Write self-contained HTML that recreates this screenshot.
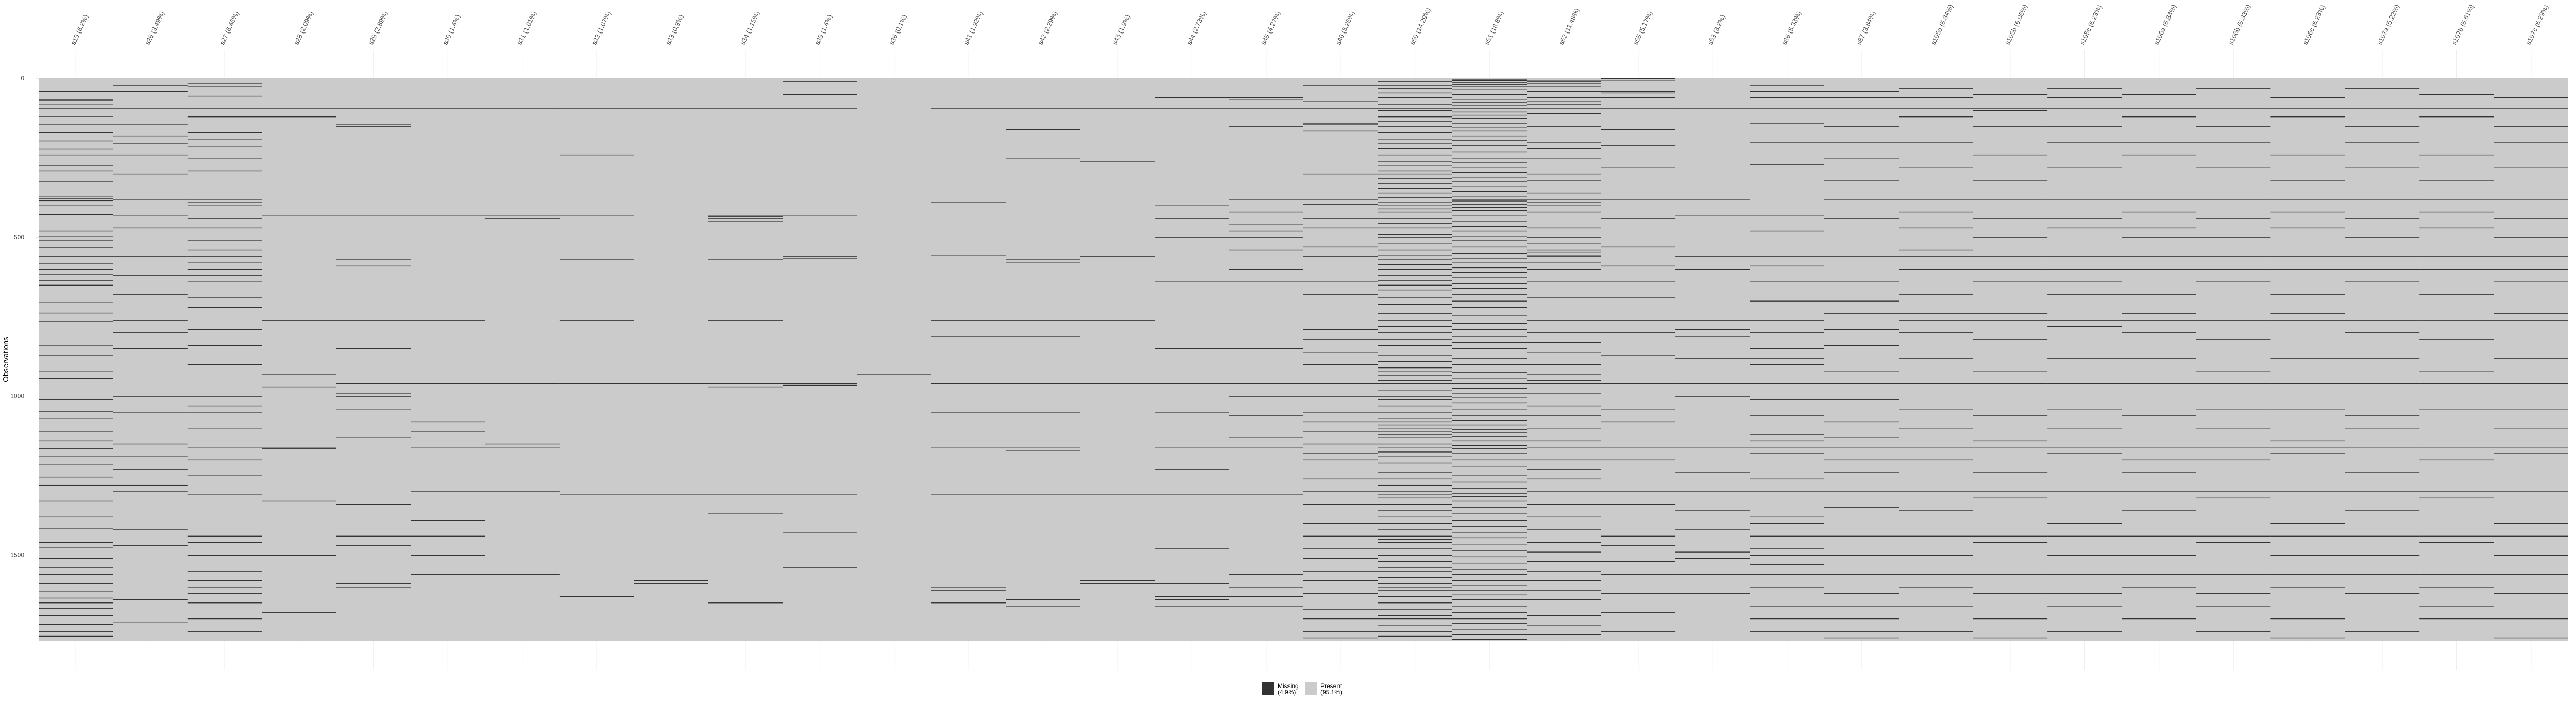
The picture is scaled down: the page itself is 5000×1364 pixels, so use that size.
<!DOCTYPE html>
<html><head><meta charset="utf-8"><style>
html,body{margin:0;padding:0;background:#fff;width:5000px;height:1364px;overflow:hidden;font-family:"Liberation Sans",sans-serif}
</style></head><body>
<svg id="chart" width="5000" height="1364" xmlns="http://www.w3.org/2000/svg"></svg>
<script>
const variables=["s15 (6.2%)","s26 (3.49%)","s27 (6.46%)","s28 (2.09%)","s29 (2.89%)","s30 (1.4%)","s31 (1.01%)","s32 (1.07%)","s33 (0.9%)","s34 (1.15%)","s35 (1.4%)","s36 (0.1%)","s41 (1.92%)","s42 (2.29%)","s43 (1.9%)","s44 (2.73%)","s45 (4.27%)","s46 (5.26%)","s50 (14.29%)","s51 (18.8%)","s52 (11.48%)","s55 (5.17%)","s63 (3.2%)","s86 (5.33%)","s87 (3.84%)","s105a (5.84%)","s105b (6.06%)","s105c (6.23%)","s106a (5.84%)","s106b (5.33%)","s106c (6.23%)","s107a (5.22%)","s107b (5.61%)","s107c (6.29%)"];
const nObs=1770;
const yTicks=[0,500,1000,1500];
const legendLabels=["Missing\n(4.9%)","Present\n(95.1%)"];
const miss_s15=[40,67,82,93,119,145,170,196,222,240,273,290,325,370,377,384,400,428,480,495,510,531,560,583,600,617,635,650,705,738,763,841,870,920,944,1010,1047,1070,1110,1140,1165,1190,1216,1254,1280,1330,1380,1415,1460,1475,1510,1540,1560,1590,1615,1635,1650,1667,1690,1718,1740,1755];
const miss_s26=[20,40,93,145,180,205,240,300,380,430,470,560,620,680,760,800,850,1000,1050,1150,1190,1230,1280,1300,1420,1470,1640,1710];
const miss_s27=[15,25,55,93,120,170,190,215,250,290,380,390,400,440,470,510,540,560,580,600,620,640,690,720,790,840,900,1000,1030,1050,1100,1160,1200,1250,1310,1440,1460,1500,1550,1580,1600,1620,1650,1700,1740];
const miss_s28=[93,120,430,760,930,970,1160,1165,1330,1500,1680];
const miss_s29=[93,145,150,430,570,590,760,850,960,990,1000,1040,1130,1340,1440,1470,1590,1600];
const miss_s30=[93,430,760,960,1080,1110,1160,1300,1390,1440,1500,1560];
const miss_s31=[93,430,440,960,1150,1160,1300,1560];
const miss_s32=[93,240,430,570,760,960,1310,1630];
const miss_s33=[93,960,1310,1580,1590];
const miss_s34=[93,430,435,440,450,570,760,960,970,1310,1370,1650];
const miss_s35=[10,50,93,430,560,565,960,965,1310,1430,1540];
const miss_s36=[930];
const miss_s41=[93,390,555,760,810,960,1050,1160,1310,1600,1610,1650];
const miss_s42=[93,160,250,570,580,760,810,960,1050,1160,1170,1310,1640,1660];
const miss_s43=[93,260,560,760,960,1310,1580,1590];
const miss_s44=[60,93,400,440,500,640,850,960,1050,1160,1230,1310,1480,1590,1630,1640,1660];
const miss_s45=[60,65,93,150,380,420,460,480,500,540,600,640,850,960,1000,1060,1130,1160,1310,1560,1600,1630,1660];
const miss_s46=[20,70,93,140,145,165,300,380,395,440,470,530,560,640,680,790,820,860,900,960,1000,1050,1080,1110,1150,1180,1200,1260,1300,1340,1400,1440,1480,1510,1550,1580,1620,1670,1700,1740,1760];
const miss_s50=[10,20,30,45,60,80,93,100,120,135,150,170,190,205,220,240,260,275,290,300,315,330,345,360,375,390,400,410,420,440,455,470,490,500,520,540,555,570,585,600,620,635,650,665,690,710,740,760,780,800,820,840,870,890,910,920,935,950,960,980,1000,1010,1030,1050,1070,1080,1090,1100,1110,1120,1130,1150,1160,1175,1190,1210,1240,1260,1280,1300,1310,1320,1340,1360,1380,1400,1420,1440,1450,1460,1480,1500,1520,1540,1550,1570,1590,1600,1610,1630,1650,1670,1690,1700,1720,1740,1755];
const miss_s51=[2,6,12,18,25,35,50,65,75,85,93,105,115,125,140,155,165,180,195,210,230,250,265,280,295,310,325,340,355,370,380,385,395,405,415,430,450,465,480,495,510,530,550,565,580,595,610,625,645,660,680,700,720,745,770,790,810,830,850,880,900,925,945,960,975,990,1005,1020,1040,1060,1075,1090,1105,1115,1125,1140,1155,1165,1180,1200,1220,1250,1270,1290,1305,1315,1330,1350,1370,1390,1410,1430,1445,1465,1485,1505,1525,1545,1560,1580,1595,1610,1625,1640,1660,1680,1700,1715,1735,1750,1765];
const miss_s52=[5,10,15,25,40,60,70,80,93,110,150,200,220,250,300,320,360,380,390,400,420,470,500,520,540,545,555,560,580,600,640,690,760,800,830,860,900,930,950,960,990,1030,1060,1100,1140,1160,1200,1230,1260,1300,1340,1380,1420,1460,1490,1520,1550,1580,1610,1640,1690,1720,1750];
const miss_s55=[0,5,40,45,60,93,160,210,280,380,440,530,590,640,690,760,800,870,960,1040,1080,1160,1200,1300,1340,1440,1470,1520,1560,1620,1680,1740];
const miss_s63=[93,380,430,560,600,760,790,810,880,960,1000,1160,1240,1300,1360,1420,1490,1510,1560,1620];
const miss_s86=[20,40,60,93,140,200,270,430,480,560,590,640,700,760,800,850,880,900,960,1010,1060,1120,1140,1160,1180,1260,1300,1380,1400,1440,1480,1500,1530,1560,1600,1660,1700,1740];
const miss_s87=[40,60,93,150,200,250,320,380,440,560,640,700,740,790,840,920,960,1010,1080,1130,1160,1200,1240,1300,1350,1440,1500,1560,1620,1660,1700,1740,1760];
const miss_s105a=[30,60,93,120,200,280,380,420,470,540,560,600,680,740,760,800,880,960,1040,1100,1160,1200,1300,1360,1440,1500,1560,1600,1660,1740];
const miss_s105b=[50,93,100,150,240,320,380,440,500,560,600,640,740,760,820,920,960,1060,1140,1160,1240,1300,1320,1440,1460,1560,1620,1700,1760];
const miss_s105c=[30,60,93,150,200,280,380,440,470,560,600,640,680,760,780,880,960,1040,1100,1160,1180,1300,1400,1440,1500,1560,1620,1660,1740];
const miss_s106a=[50,93,120,200,240,380,420,470,500,560,600,680,740,760,800,880,960,1060,1160,1200,1240,1300,1360,1440,1500,1560,1600,1700];
const miss_s106b=[30,93,150,200,280,380,440,500,560,600,640,760,820,920,960,1040,1100,1160,1200,1300,1320,1440,1460,1560,1620,1660,1740];
const miss_s106c=[60,93,120,240,320,380,420,470,560,600,680,740,760,880,960,1040,1140,1160,1180,1300,1400,1440,1500,1560,1600,1700,1760];
const miss_s107a=[30,93,150,200,280,380,440,500,560,600,640,760,800,880,960,1060,1100,1160,1240,1300,1360,1440,1500,1560,1620,1740];
const miss_s107b=[50,93,120,240,320,380,420,470,560,600,680,760,820,920,960,1040,1160,1200,1300,1320,1440,1460,1560,1600,1660,1700];
const miss_s107c=[60,93,150,200,280,380,440,500,560,600,640,740,760,880,960,1040,1100,1160,1180,1300,1400,1440,1500,1560,1620,1700,1760];
const missing=[miss_s15,miss_s26,miss_s27,miss_s28,miss_s29,miss_s30,miss_s31,miss_s32,miss_s33,miss_s34,miss_s35,miss_s36,miss_s41,miss_s42,miss_s43,miss_s44,miss_s45,miss_s46,miss_s50,miss_s51,miss_s52,miss_s55,miss_s63,miss_s86,miss_s87,miss_s105a,miss_s105b,miss_s105c,miss_s106a,miss_s106b,miss_s106c,miss_s107a,miss_s107b,miss_s107c];

const NS="http://www.w3.org/2000/svg";
const svg=document.getElementById('chart');
const X0=75,X1=4985,Y0=152,Y1=1243;
const colW=(X1-X0)/variables.length;
const xPos=i=>X0+i*colW;
const xMid=i=>X0+(i+0.5)*colW;
const yPos=r=>Y0+r*(Y1-Y0)/nObs;
const rowH=Math.max((Y1-Y0)/nObs,1.4);
function mk(tag,attrs){const e=document.createElementNS(NS,tag);for(const k in attrs)e.setAttribute(k,attrs[k]);svg.appendChild(e);return e;}

variables.forEach((v,i)=>{
  const g1=mk('line',{x1:xMid(i),x2:xMid(i),y1:97,y2:Y0,stroke:'#ebebeb','stroke-width':1});
  
  
  const g2=mk('line',{x1:xMid(i),x2:xMid(i),y1:Y1,y2:1300,stroke:'#ebebeb','stroke-width':1});
  
  
  const t=mk('text',{x:xMid(i)-2,y:88,'font-size':13,fill:'#4d4d4d',transform:`rotate(-65 ${xMid(i)-2} 88)`});
  t.textContent=v;
  
  
});
const bg=mk('rect',{x:X0,y:Y0,width:X1-X0,height:Y1-Y0,fill:'#cbcbcb'});


missing.forEach((rows,i)=>{
  rows.forEach(r=>{
    const m=mk('rect',{x:xPos(i),y:yPos(r),width:colW,height:rowH,fill:'#333333'});
    
    
  });
});
yTicks.forEach(t=>{
  const l=mk('line',{x1:X0-5,x2:X0,y1:yPos(t),y2:yPos(t),stroke:'#d9d9d9','stroke-width':1});
  
  
  const tx=mk('text',{x:X0-28,y:yPos(t)+4,'font-size':12,fill:'#4d4d4d','text-anchor':'end'});
  tx.textContent=t;
  
  
});
const yt=mk('text',{x:16,y:(Y0+Y1)/2,'font-size':15,fill:'#000','text-anchor':'middle',transform:`rotate(-90 16 ${(Y0+Y1)/2})`});
yt.textContent='Observations';


const legCols=['#333333','#cbcbcb'];
const legX=[2450,2533];
legendLabels.forEach((lab,i)=>{
  const r=mk('rect',{x:legX[i],y:1323,width:23,height:26,fill:legCols[i]});
  
  
  lab.split('\n').forEach((ln,j)=>{
    const t=mk('text',{x:legX[i]+30,y:1335+j*12,'font-size':12,fill:'#000'});
    t.textContent=ln;
    
    
  });
});
</script>
</body></html>
